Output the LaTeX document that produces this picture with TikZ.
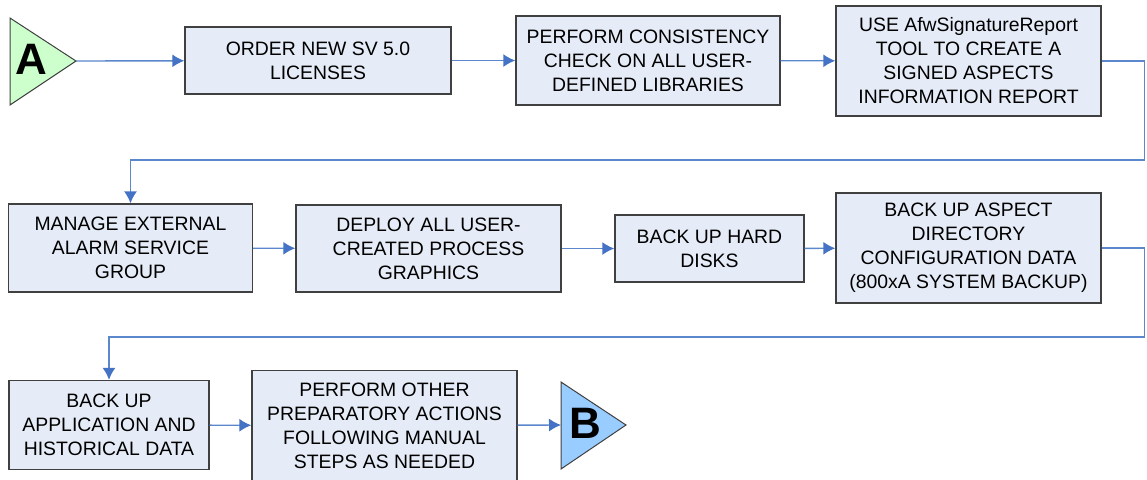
\documentclass[tikz,border=0pt]{standalone}
\usepackage{fontspec}
\setmainfont{Liberation Sans}
\usepackage{xcolor}
\usetikzlibrary{arrows.meta,calc}
\definecolor{boxfill}{HTML}{E6ECF7}
\definecolor{boxline}{HTML}{404040}
\definecolor{flowline}{HTML}{5B87CC}
\definecolor{flowtip}{HTML}{4472C4}
\definecolor{startfill}{HTML}{CCFFCC}
\definecolor{endfill}{HTML}{99CCFF}

\begin{document}
\begin{tikzpicture}[x=0.5pt, y=-0.5pt, >={Latex[length=6pt,width=6.5pt,color=flowtip]},
  font=\fontsize{9.7}{12}\selectfont,
  box/.style={draw=boxline, line width=0.7pt, fill=boxfill, align=center, inner sep=0pt},
  flow/.style={->, draw=flowline, line width=0.7pt},
  marker/.style={draw=boxline, line width=0.5pt},
  letter/.style={font=\fontsize{22}{22}\selectfont\bfseries, inner sep=0pt}]
\useasboundingbox (0,0) rectangle (1147,479);
% first row
\draw[marker, fill=startfill] (10,18) -- (10,105) -- (76,61) -- cycle;
\coordinate (Atip) at (76,61);
\node[letter] (A) at (31,59) {A};
\node[box, minimum width=133pt, minimum height=33.5pt] (b1) at (318,60.5) {ORDER NEW SV 5.0\\LICENSES};
\node[box, minimum width=132pt, minimum height=44.5pt] (b2) at (648,60.5) {PERFORM CONSISTENCY\\CHECK ON ALL USER-\\DEFINED LIBRARIES};
\node[box, minimum width=132.5pt, minimum height=55pt] (b3) at (968.5,61) {USE AfwSignatureReport\\TOOL TO CREATE A\\SIGNED ASPECTS\\INFORMATION REPORT};
% second row
\node[box, minimum width=122pt, minimum height=44pt] (b4) at (130.5,248) {MANAGE EXTERNAL\\ALARM SERVICE\\GROUP};
\node[box, minimum width=132.5pt, minimum height=43.5pt] (b5) at (428.5,248.5) {DEPLOY ALL USER-\\CREATED PROCESS\\GRAPHICS};
\node[box, minimum width=94.5pt, minimum height=33.5pt] (b6) at (709.5,248.5) {BACK UP HARD\\DISKS};
\node[box, minimum width=132.5pt, minimum height=55pt] (b7) at (968.5,248) {BACK UP ASPECT\\DIRECTORY\\CONFIGURATION DATA\\(800xA SYSTEM BACKUP)};
% third row
\node[box, minimum width=100pt, minimum height=44.5pt] (b8) at (109,425) {BACK UP\\APPLICATION AND\\HISTORICAL DATA};
\node[box, minimum width=132.5pt, minimum height=55pt] (b9) at (384.5,425.5) {PERFORM OTHER\\PREPARATORY ACTIONS\\FOLLOWING MANUAL\\STEPS AS NEEDED};
\draw[marker, fill=endfill] (561,382) -- (561,469) -- (626,425) -- cycle;
\coordinate (Bbase) at (561,425);
\node[letter] (B) at (585,423) {B};
% connectors
\draw[flow] (Atip) -- (b1);
\draw[flow] (b1) -- (b2);
\draw[flow] (b2) -- (b3);
\draw[flow] (b3.east) -| ++(43,99) -| (b4.north);
\draw[flow] (b4) -- (b5);
\draw[flow] (b5) -- (b6);
\draw[flow] (b6) -- (b7);
\draw[flow] (b7.east) -| ++(43,89) -| (b8.north);
\draw[flow] (b8) -- (b9);
\draw[flow] (b9) -- (Bbase);
\end{tikzpicture}
\end{document}
